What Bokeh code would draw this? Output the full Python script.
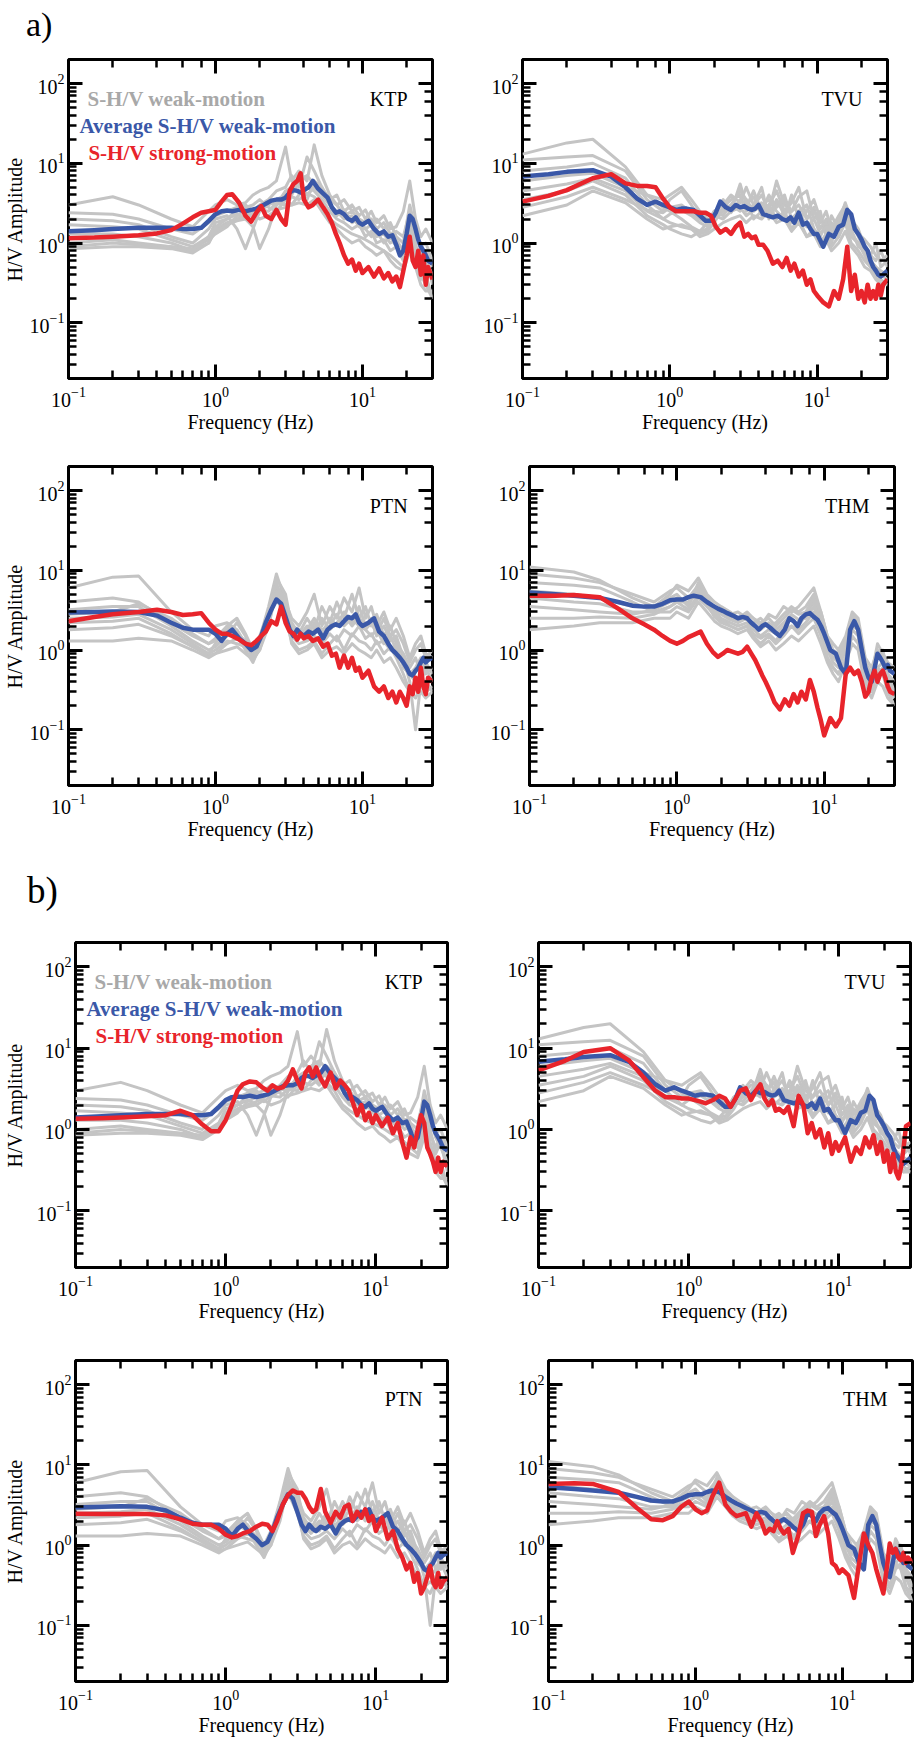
import math
from bokeh.plotting import figure
from bokeh.models import LogAxis, Label, CustomJSTickFormatter, Div
from bokeh.layouts import column, row
from bokeh.embed import file_html
from bokeh.resources import INLINE

# ---------------- data ----------------
X_RANGE = (0.1, 30)
Y_RANGE = (0.02, 200)

# frequency grid of the individual weak-motion S-H/V curves
FREQ_W = [0.1, 0.2, 0.3, 0.5, 0.7, 0.9, 1.0, 1.2, 1.4, 1.6,
          1.8, 2.0, 2.3, 2.6, 3.0, 3.3, 3.7, 4.2, 4.7, 5.3,
          6.0, 6.7, 7.5, 8.5, 9.5, 10.5, 11.5, 12.5, 14, 15.5,
          17, 19, 21, 23, 25, 27, 30]

# frequency grid of average weak-motion and strong-motion curves
FREQ_S = [0.1, 0.15, 0.2, 0.3, 0.4, 0.5, 0.6, 0.7, 0.8, 0.9,
          1.0, 1.1, 1.2, 1.3, 1.45, 1.6, 1.75, 1.9, 2.05, 2.2,
          2.4, 2.6, 2.8, 3.0, 3.2, 3.4, 3.6, 3.8, 4.0, 4.3,
          4.6, 5.0, 5.4, 5.8, 6.2, 6.6, 7.0, 7.5, 8.0, 8.5,
          9.0, 9.5, 10, 11, 12, 13, 14, 15, 16, 17,
          18, 19, 20, 21, 22, 23, 24, 25, 26, 27,
          28, 30]

KTP_WEAK = [
    [3.0, 3.8, 3.0, 2.0, 1.6, 2.5, 3.0, 3.5, 3.0, 3.2, 4.0, 4.5, 5.0, 6.0, 16.0, 6.0, 8.0, 6.0, 17.0, 7.0,
     4.0, 3.0, 3.5, 2.5, 2.8, 2.0, 2.5, 1.8, 2.2, 1.5, 1.6, 2.5, 6.0, 2.0, 1.2, 1.5, 1.0],
    [2.4, 2.3, 2.0, 1.5, 1.3, 1.8, 2.2, 2.5, 2.8, 3.0, 2.5, 3.0, 3.5, 4.5, 5.0, 7.0, 5.0, 12.0, 8.0, 5.0,
     3.5, 4.0, 2.5, 3.0, 2.2, 2.6, 1.8, 2.0, 1.5, 1.8, 1.2, 1.0, 3.0, 1.5, 0.8, 0.6, 0.4],
    [2.0, 1.9, 1.7, 1.2, 1.0, 1.5, 2.0, 2.2, 1.5, 0.85, 1.5, 2.5, 3.0, 3.5, 4.0, 4.5, 5.5, 4.0, 5.0, 4.0,
     3.0, 2.5, 2.0, 2.2, 1.6, 1.5, 1.2, 1.4, 1.0, 1.2, 0.9, 0.7, 2.0, 1.0, 0.5, 0.7, 0.3],
    [1.7, 1.6, 1.5, 1.1, 0.9, 1.2, 1.8, 2.0, 2.3, 2.0, 1.6, 0.85, 1.5, 3.0, 3.5, 3.0, 4.0, 5.0, 4.5, 3.5,
     2.5, 2.0, 1.8, 1.5, 1.7, 1.2, 1.4, 1.0, 1.1, 0.8, 0.9, 0.6, 1.5, 0.7, 0.4, 0.3, 0.2],
    [1.3, 1.3, 1.2, 1.0, 0.8, 1.0, 1.5, 1.8, 2.0, 2.2, 2.5, 2.8, 3.2, 3.0, 4.5, 5.0, 4.5, 3.5, 6.0, 5.0,
     3.0, 2.2, 2.6, 1.8, 2.0, 1.5, 1.7, 1.2, 1.3, 1.0, 1.1, 0.8, 1.8, 0.9, 0.6, 0.8, 0.5],
    [1.0, 1.1, 1.0, 0.9, 0.85, 1.1, 1.3, 1.6, 2.2, 2.5, 2.2, 2.6, 2.5, 3.2, 3.0, 3.8, 3.5, 4.2, 3.8, 3.0,
     2.0, 1.7, 1.5, 1.3, 1.2, 1.1, 1.0, 0.9, 0.8, 0.7, 0.6, 0.5, 1.0, 0.6, 0.35, 0.4, 0.2],
    [0.9, 1.0, 0.95, 0.9, 0.8, 1.2, 1.6, 2.0, 2.6, 2.8, 3.0, 3.5, 2.8, 2.5, 3.5, 4.0, 6.0, 7.0, 5.5, 4.5,
     3.5, 3.0, 2.2, 2.5, 2.0, 1.8, 2.0, 1.5, 1.8, 1.3, 1.4, 1.2, 2.5, 1.3, 0.9, 1.0, 0.6],
    [0.85, 0.9, 0.9, 0.85, 0.75, 1.0, 1.4, 1.7, 1.9, 2.0, 2.3, 2.0, 2.2, 2.6, 2.8, 3.0, 3.2, 3.0, 3.5, 2.5,
     1.8, 1.5, 1.2, 1.0, 1.1, 0.9, 0.8, 0.7, 0.8, 0.6, 0.5, 0.45, 0.8, 0.5, 0.3, 0.25, 0.25],
]
KTP_AVG = [1.4, 1.45, 1.5, 1.55, 1.55, 1.55, 1.5, 1.5, 1.55, 1.9,
           2.3, 2.5, 2.55, 2.5, 2.6, 2.5, 2.6, 2.7, 2.9, 3.1,
           3.4, 3.5, 3.5, 3.7, 4.3, 4.6, 4.5, 4.3, 4.6, 5.0,
           6.0, 4.8, 4.2, 3.7, 2.8, 2.4, 2.5, 2.3, 2.0, 1.9,
           2.1, 1.8, 1.7, 1.9, 1.5, 1.3, 1.4, 1.2, 1.25, 0.95,
           0.7, 0.8, 1.3, 2.2, 2.0, 1.5, 1.1, 0.9, 0.8, 0.7,
           0.6, 0.55]
KTP_STRONG_A = [1.15, 1.17, 1.2, 1.25, 1.32, 1.45, 1.75, 2.1, 2.4, 2.5,
                2.6, 3.3, 4.0, 4.1, 3.2, 2.2, 1.85, 2.4, 2.9, 2.2,
                2.0, 2.6, 2.0, 1.7, 4.5, 5.5, 6.0, 7.5, 3.5, 2.8,
                3.0, 3.5, 2.8, 2.3, 1.8, 1.3, 1.0, 0.7, 0.55, 0.62,
                0.45, 0.55, 0.42, 0.5, 0.38, 0.48, 0.36, 0.42, 0.33, 0.38,
                0.28, 0.45, 0.7, 1.2, 0.6, 0.5, 0.8, 0.4, 0.7, 0.3,
                0.5, 0.35]
KTP_STRONG_B = [1.35, 1.37, 1.4, 1.45, 1.5, 1.7, 1.5, 1.15, 0.95, 0.95,
                1.3, 2.0, 3.0, 3.6, 3.9, 3.8, 3.3, 3.0, 3.5, 3.2,
                3.3, 4.0, 5.5, 4.0, 3.2, 5.0, 5.8, 4.5, 5.8, 4.2,
                3.4, 5.0, 3.2, 4.0, 3.5, 3.0, 2.2, 1.5, 2.0, 1.3,
                1.6, 1.2, 1.5, 1.1, 1.4, 0.9, 1.2, 0.7, 0.45, 0.8,
                0.6, 1.0, 1.5, 1.2, 0.6, 0.5, 0.4, 0.3, 0.45, 0.3,
                0.4, 0.35]

TVU_WEAK = [
    [13.0, 18.0, 20.0, 9.0, 4.0, 2.8, 2.5, 2.0, 1.6, 1.4, 1.5, 2.2, 3.5, 2.5, 5.5, 3.0, 3.8, 2.2, 3.0, 4.5,
     2.5, 3.2, 5.0, 2.0, 2.8, 1.5, 2.0, 1.3, 1.8, 3.2, 2.0, 1.5, 0.9, 0.7, 1.0, 0.5, 0.6],
    [11.0, 12.0, 12.5, 8.0, 3.5, 2.5, 3.5, 4.5, 3.0, 2.0, 1.8, 2.5, 3.0, 4.0, 3.2, 5.0, 3.0, 4.0, 2.5, 6.0,
     3.0, 2.5, 3.8, 4.5, 2.0, 2.5, 1.2, 2.2, 1.5, 2.8, 1.8, 1.2, 0.8, 0.6, 0.5, 0.4, 0.35],
    [8.0, 9.0, 10.0, 6.5, 3.0, 2.0, 1.8, 1.6, 1.5, 1.3, 1.4, 1.8, 2.8, 3.5, 4.0, 2.5, 3.0, 5.0, 2.0, 3.0,
     4.0, 2.0, 2.5, 3.0, 1.5, 1.2, 1.8, 1.0, 2.0, 2.5, 1.2, 1.0, 0.7, 0.5, 0.4, 0.35, 0.3],
    [6.0, 7.0, 7.5, 5.0, 4.0, 3.5, 4.0, 5.0, 3.5, 2.5, 2.0, 2.0, 2.5, 3.0, 4.5, 3.5, 2.5, 3.0, 3.5, 2.5,
     2.0, 4.0, 2.0, 2.5, 3.5, 2.0, 1.5, 1.8, 1.2, 2.2, 1.5, 0.9, 0.8, 0.6, 0.5, 0.45, 0.4],
    [4.5, 5.5, 6.5, 4.5, 2.5, 2.0, 2.3, 2.6, 2.2, 1.8, 1.6, 2.2, 2.0, 2.5, 2.8, 2.2, 2.6, 3.2, 2.2, 3.5,
     2.2, 1.8, 2.5, 1.6, 2.0, 1.3, 1.6, 1.2, 1.5, 2.0, 1.3, 1.0, 0.9, 0.7, 0.6, 0.8, 0.5],
    [3.5, 4.5, 6.0, 4.0, 2.2, 1.7, 1.5, 1.3, 1.2, 1.4, 1.8, 2.5, 2.2, 3.0, 2.5, 3.5, 2.0, 2.5, 3.0, 2.0,
     2.5, 1.5, 2.0, 1.2, 1.5, 1.0, 1.3, 0.9, 1.2, 1.8, 1.0, 0.8, 0.6, 0.5, 0.4, 0.3, 0.35],
    [2.8, 3.8, 5.0, 3.5, 2.6, 2.4, 2.8, 3.0, 2.4, 2.0, 1.8, 2.0, 2.8, 2.4, 3.5, 2.8, 4.5, 2.5, 4.0, 2.8,
     3.5, 2.5, 3.0, 2.0, 2.5, 1.8, 2.5, 1.5, 2.2, 3.0, 1.6, 1.3, 1.1, 0.9, 0.7, 0.6, 0.7],
    [2.2, 3.0, 4.5, 3.2, 2.0, 1.5, 1.6, 1.7, 1.5, 1.2, 1.3, 1.5, 1.8, 2.0, 2.2, 1.8, 2.2, 2.0, 2.5, 1.8,
     2.0, 1.4, 1.8, 1.2, 1.3, 0.9, 1.1, 0.8, 1.0, 1.4, 0.9, 0.7, 0.5, 0.45, 0.35, 0.3, 0.3],
]
TVU_AVG = [6.8, 7.3, 7.8, 8.2, 6.8, 5.0, 3.6, 3.0, 3.3, 3.0,
           2.8, 2.6, 2.7, 2.7, 2.6, 2.2, 1.9, 1.9, 2.4, 3.3,
           2.8, 2.6, 3.0, 2.8, 2.9, 2.7, 2.6, 2.7, 3.0, 2.3,
           2.2, 2.1, 2.2, 2.0, 1.9, 2.1, 1.8, 2.4, 1.7, 1.8,
           1.5, 1.3, 1.3, 0.9, 1.3, 1.2, 1.6, 1.7, 2.6, 2.3,
           1.5, 1.3, 1.1, 0.9, 0.8, 0.6, 0.5, 0.45, 0.4, 0.38,
           0.4, 0.45]
TVU_STRONG_A = [3.3, 3.9, 4.6, 6.5, 7.3, 5.6, 5.2, 5.2, 5.0, 3.6,
                2.8, 2.5, 2.5, 2.5, 2.5, 2.4, 2.4, 2.2, 1.6, 1.35,
                1.5, 1.3, 1.6, 1.8, 1.2, 1.3, 1.15, 1.2, 0.95, 0.95,
                0.8, 0.55, 0.6, 0.5, 0.65, 0.45, 0.55, 0.38, 0.45, 0.3,
                0.35, 0.25, 0.22, 0.18, 0.16, 0.25, 0.2, 0.35, 0.9, 0.25,
                0.4, 0.2, 0.25, 0.18, 0.3, 0.2, 0.25, 0.2, 0.3, 0.22,
                0.3, 0.35]
TVU_STRONG_B = [5.35, 7.0, 9.0, 10.0, 7.1, 4.4, 3.0, 2.5, 2.5, 2.4,
                2.4, 2.3, 2.2, 2.1, 2.3, 2.6, 2.4, 1.9, 2.4, 3.0,
                3.2, 2.3, 3.0, 3.6, 2.4, 2.0, 2.3, 1.7, 1.8, 1.6,
                1.9, 1.1, 2.6, 2.0, 0.9, 1.2, 0.8, 1.0, 0.6, 0.9,
                0.5, 0.7, 0.55, 0.8, 0.4, 0.6, 0.5, 0.8, 0.6, 0.85,
                0.5, 0.7, 0.4, 0.55, 0.3, 0.5, 0.3, 0.25, 0.35, 0.6,
                1.1, 1.2]

PTN_WEAK = [
    [6.0, 8.2, 8.5, 3.0, 1.8, 1.5, 2.0, 2.2, 1.8, 1.2, 0.9, 1.4, 3.5, 9.0, 4.0, 2.5, 2.0, 3.0, 5.0, 2.0,
     3.5, 2.5, 4.5, 3.0, 6.0, 2.5, 3.5, 2.0, 3.0, 1.8, 2.5, 1.5, 0.8, 1.2, 1.5, 0.9, 0.8],
    [4.0, 4.5, 4.0, 2.2, 1.5, 1.2, 1.4, 2.0, 1.6, 1.3, 1.0, 1.2, 3.0, 7.0, 3.0, 2.2, 1.6, 2.5, 1.8, 3.5,
     2.2, 4.0, 2.5, 5.0, 2.5, 3.5, 2.0, 2.8, 1.5, 2.0, 1.2, 0.9, 0.6, 0.8, 0.5, 0.7, 0.5],
    [3.2, 3.5, 3.5, 2.0, 1.3, 1.0, 1.1, 1.5, 2.2, 1.5, 0.8, 1.0, 2.5, 6.0, 3.5, 1.8, 1.4, 1.8, 2.5, 1.6,
     2.5, 2.0, 3.0, 2.2, 3.5, 2.0, 2.5, 1.5, 2.0, 1.3, 1.5, 0.8, 0.4, 0.1, 0.4, 0.6, 0.4],
    [2.8, 3.0, 3.8, 2.5, 1.6, 1.2, 1.3, 1.8, 1.5, 1.0, 0.7, 1.1, 2.8, 8.0, 5.0, 2.0, 1.8, 1.5, 2.2, 1.8,
     2.0, 2.8, 2.0, 2.5, 2.0, 1.8, 1.5, 1.8, 1.2, 1.5, 1.0, 0.7, 0.5, 0.6, 0.8, 0.5, 0.6],
    [2.5, 2.6, 2.8, 1.8, 1.2, 0.9, 1.0, 1.3, 1.2, 1.1, 0.9, 1.3, 2.2, 5.0, 3.0, 1.5, 1.2, 1.3, 1.5, 1.2,
     1.6, 1.3, 1.8, 1.5, 2.0, 1.4, 1.6, 1.2, 1.3, 1.0, 1.2, 0.6, 0.5, 0.4, 0.5, 0.3, 0.35],
    [2.2, 2.3, 2.5, 1.6, 1.1, 0.85, 0.9, 1.2, 1.4, 1.2, 0.8, 1.2, 2.5, 4.5, 2.5, 1.3, 1.0, 1.1, 1.3, 0.9,
     1.2, 1.5, 1.0, 1.6, 1.3, 1.2, 1.0, 1.3, 0.9, 1.1, 0.8, 0.5, 0.3, 0.25, 0.35, 0.4, 0.3],
    [1.8, 1.9, 2.1, 1.5, 1.1, 0.9, 1.2, 2.0, 2.5, 1.6, 1.0, 1.5, 3.0, 6.5, 4.0, 2.0, 1.5, 2.0, 1.6, 2.5,
     1.8, 2.2, 2.8, 2.0, 2.6, 1.8, 2.2, 1.6, 2.5, 1.5, 1.8, 1.2, 0.7, 1.0, 1.2, 0.8, 1.0],
    [1.3, 1.3, 1.4, 1.3, 1.0, 0.8, 0.9, 1.0, 1.1, 0.9, 0.75, 1.0, 2.0, 5.5, 3.0, 1.2, 0.9, 1.0, 1.2, 0.8,
     1.0, 1.1, 0.9, 1.2, 1.0, 0.9, 0.8, 1.0, 0.7, 0.8, 0.6, 0.4, 0.3, 0.35, 0.3, 0.25, 0.3],
]
PTN_AVG = [2.95, 3.0, 3.05, 3.0, 2.7, 2.2, 1.9, 1.8, 1.8, 1.8,
           1.6, 1.3, 1.6, 1.8, 1.4, 1.2, 1.0, 1.1, 1.5, 2.2,
           3.2, 4.3, 3.8, 2.6, 1.8, 1.5, 1.8, 1.6, 1.5, 1.7,
           1.6, 1.8, 1.4, 1.8, 2.0, 2.1, 2.0, 2.3, 2.6, 2.5,
           2.8, 2.2, 2.0, 2.2, 2.5, 1.7, 1.5, 1.2, 1.0, 0.9,
           0.8, 0.7, 0.6, 0.5, 0.48, 0.55, 0.6, 0.7, 0.8, 0.7,
           0.75, 0.8]
PTN_STRONG_A = [2.3, 2.6, 2.8, 3.0, 3.2, 3.0, 2.75, 2.8, 2.9, 2.2,
                1.8, 1.6, 1.6, 1.5, 1.35, 1.2, 1.15, 1.3, 1.5, 1.7,
                2.3, 2.1, 3.5, 2.2, 1.7, 1.6, 1.35, 1.6, 1.4, 1.5,
                1.3, 1.4, 1.1, 1.2, 0.85, 0.9, 0.6, 0.85, 0.6, 0.8,
                0.55, 0.6, 0.45, 0.55, 0.35, 0.3, 0.35, 0.25, 0.3, 0.22,
                0.3, 0.25, 0.2, 0.35, 0.28, 0.45, 0.3, 0.6, 0.35, 0.28,
                0.45, 0.4]
PTN_STRONG_B = [2.47, 2.45, 2.45, 2.45, 2.35, 2.1, 1.85, 1.8, 1.8, 1.6,
                1.35, 1.25, 1.3, 1.4, 1.5, 1.7, 1.85, 1.8, 1.5, 2.0,
                3.2, 4.2, 4.8, 4.5, 4.5, 3.8, 3.0, 2.6, 2.8, 5.0,
                2.6, 1.9, 2.6, 2.2, 3.0, 3.2, 2.0, 2.6, 2.2, 2.8,
                2.0, 2.3, 1.5, 2.2, 1.2, 1.5, 0.9, 0.7, 0.5, 0.6,
                0.35, 0.45, 0.25, 0.3, 0.4, 0.55, 0.35, 0.3, 0.45, 0.3,
                0.35, 0.4]

THM_WEAK = [
    [11.0, 9.5, 7.5, 4.5, 3.5, 5.0, 6.5, 5.5, 8.0, 5.0, 4.0, 3.5, 3.0, 2.5, 3.0, 2.5, 2.0, 2.8, 2.5, 3.5,
     3.0, 3.5, 4.5, 6.0, 3.0, 1.5, 1.2, 1.0, 1.5, 3.0, 2.5, 0.8, 0.6, 1.0, 0.8, 0.6, 0.5],
    [9.0, 8.0, 7.0, 5.0, 4.0, 5.5, 6.0, 4.5, 6.5, 4.5, 3.5, 3.0, 2.8, 3.0, 2.5, 2.2, 2.5, 2.0, 2.2, 2.8,
     3.5, 3.0, 3.5, 5.0, 2.5, 1.2, 0.9, 0.8, 1.2, 2.5, 2.0, 0.6, 0.4, 0.8, 1.0, 0.5, 0.3],
    [7.0, 6.5, 6.0, 4.0, 3.0, 3.5, 4.0, 4.0, 5.5, 4.0, 3.0, 2.5, 2.2, 2.0, 2.2, 1.8, 1.5, 1.8, 1.6, 2.0,
     2.5, 2.0, 2.8, 4.0, 2.0, 1.0, 0.7, 0.6, 1.0, 2.0, 1.8, 0.5, 0.3, 0.6, 0.7, 0.4, 0.25],
    [5.5, 5.0, 4.5, 3.5, 3.5, 4.5, 5.0, 3.5, 7.0, 4.5, 3.2, 3.0, 2.6, 2.3, 2.8, 2.5, 2.2, 2.5, 2.0, 2.5,
     3.2, 2.8, 3.0, 4.5, 3.0, 1.5, 1.0, 0.9, 1.3, 2.8, 2.2, 0.7, 0.5, 1.2, 0.9, 0.7, 0.6],
    [4.5, 4.0, 3.8, 3.0, 3.0, 3.0, 3.5, 3.0, 4.5, 3.5, 2.8, 2.4, 2.0, 1.8, 2.0, 1.6, 1.4, 1.6, 1.3, 1.8,
     2.0, 1.8, 2.2, 3.0, 1.6, 0.8, 0.6, 0.5, 0.8, 1.8, 1.5, 0.45, 0.3, 0.5, 0.6, 0.3, 0.2],
    [3.5, 3.2, 3.0, 2.8, 3.2, 4.0, 4.5, 3.8, 6.0, 4.0, 3.0, 2.8, 2.4, 2.2, 2.5, 2.0, 1.8, 2.2, 1.8, 2.2,
     2.8, 2.4, 2.5, 3.5, 2.2, 1.2, 0.8, 0.7, 1.1, 2.2, 1.8, 0.6, 0.4, 0.9, 0.8, 0.5, 0.4],
    [2.5, 2.5, 2.6, 2.5, 2.8, 3.5, 4.0, 3.2, 5.0, 3.8, 2.6, 2.2, 2.0, 1.8, 2.0, 1.5, 1.2, 1.5, 1.2, 1.5,
     2.0, 1.6, 2.0, 2.5, 1.5, 0.8, 0.6, 0.5, 0.8, 1.5, 1.2, 0.4, 0.3, 0.6, 0.5, 0.3, 0.25],
    [1.8, 2.0, 2.2, 2.2, 2.5, 2.5, 3.0, 2.5, 4.0, 3.0, 2.3, 2.0, 1.8, 1.6, 1.8, 1.4, 1.1, 1.3, 1.0, 1.2,
     1.5, 1.3, 1.6, 2.0, 1.2, 0.7, 0.5, 0.4, 0.7, 1.2, 1.0, 0.35, 0.25, 0.4, 0.35, 0.25, 0.2],
]
THM_AVG = [5.25, 5.0, 4.8, 4.5, 4.0, 3.6, 3.5, 3.5, 3.8, 4.2,
           4.3, 4.3, 4.6, 4.8, 4.6, 4.0, 3.6, 3.3, 3.1, 2.9,
           2.7, 2.5, 2.6, 2.5, 2.2, 2.0, 1.8, 2.0, 2.1, 1.9,
           1.7, 1.5, 1.8, 2.5, 2.3, 2.0, 2.5, 2.8, 2.9, 2.6,
           2.4, 2.0, 1.6, 1.0, 0.9, 0.6, 0.5, 1.8, 2.3, 1.8,
           1.0, 0.6, 0.45, 0.4, 0.6, 0.9, 0.8, 0.7, 0.6, 0.65,
           0.55, 0.5]
THM_STRONG_A = [4.8, 4.8, 4.9, 4.6, 3.3, 2.5, 2.1, 1.8, 1.5, 1.3,
                1.2, 1.3, 1.45, 1.55, 1.7, 1.2, 0.95, 0.82, 0.9, 1.0,
                0.95, 0.9, 0.95, 1.1, 0.9, 0.75, 0.6, 0.48, 0.4, 0.3,
                0.22, 0.18, 0.24, 0.2, 0.28, 0.22, 0.3, 0.24, 0.42, 0.3,
                0.19, 0.13, 0.085, 0.14, 0.11, 0.14, 0.5, 0.6, 0.5, 0.55,
                0.4, 0.26, 0.3, 0.45, 0.55, 0.4, 0.5, 0.55, 0.45, 0.35,
                0.3, 0.28]
THM_STRONG_B = [5.8, 5.9, 5.8, 4.6, 2.9, 2.1, 2.05, 2.3, 3.0, 3.5,
                2.8, 2.5, 2.7, 4.0, 6.0, 3.2, 2.6, 2.3, 2.4, 2.5,
                1.7, 2.5, 2.0, 1.4, 1.6, 1.5, 2.0, 1.6, 1.4, 1.6,
                0.8, 1.3, 2.5, 2.7, 2.6, 1.3, 1.8, 2.3, 1.4, 0.6,
                0.55, 0.45, 0.5, 0.42, 0.22, 0.6, 1.4, 1.0, 0.8, 0.5,
                0.35, 0.25, 0.5, 1.05, 0.8, 0.9, 0.7, 0.65, 0.8, 0.6,
                0.7, 0.6]

LEGEND_TEXTS = ["S-H/V weak-motion", "Average S-H/V weak-motion", "S-H/V strong-motion"]

# ---------------- styling ----------------
SERIF = "Liberation Serif"
GRAY = "#c4c4c4"
GRAY_TEXT = "#a8a8a8"
BLUE = "#3a58a8"
RED = "#e8242b"


def style_axis(ax, minor_len, labels=True, label_standoff=8, title_standoff=1):
    ax.axis_line_color = None
    ax.major_tick_in = 14
    ax.major_tick_out = 0
    ax.minor_tick_in = minor_len
    ax.minor_tick_out = 0
    ax.major_tick_line_width = 3
    ax.minor_tick_line_width = 2.5
    ax.major_tick_line_color = "black"
    ax.minor_tick_line_color = "black"
    if labels:
        ax.major_label_text_font = SERIF
        ax.major_label_text_font_size = "20px"
        ax.major_label_text_color = "black"
        ax.major_label_standoff = label_standoff
        ax.axis_label_text_font = SERIF
        ax.axis_label_text_font_size = "20px"
        ax.axis_label_text_font_style = "normal"
        ax.axis_label_text_color = "black"
        ax.axis_label_standoff = title_standoff
    else:
        ax.formatter = CustomJSTickFormatter(code="return ''")
        ax.major_label_text_font_size = "0px"
        ax.major_label_standoff = 0
        ax.axis_label_standoff = 0


def frame_to_data(fw, fh, dx, dy):
    lx0, lx1 = math.log10(X_RANGE[0]), math.log10(X_RANGE[1])
    ly0, ly1 = math.log10(Y_RANGE[0]), math.log10(Y_RANGE[1])
    return (10 ** (lx0 + dx / fw * (lx1 - lx0)),
            10 ** (ly1 - dy / fh * (ly1 - ly0)))


def panel(width, height, borders, station, weak, avg, strong,
          ylabel=False, legend=False, ylabel_standoff=1):
    l, r, t, b = borders
    fw, fh = width - l - r, height - t - b
    p = figure(width=width, height=height, x_axis_type="log", y_axis_type="log",
               x_range=X_RANGE, y_range=Y_RANGE, output_backend="svg",
               toolbar_location=None, min_border_left=l, min_border_right=r,
               min_border_top=t, min_border_bottom=b)
    p.background_fill_color = "white"
    p.border_fill_color = "white"
    p.outline_line_color = "black"
    p.outline_line_width = 3
    p.xgrid.visible = False
    p.ygrid.visible = False

    style_axis(p.xaxis[0], 8, label_standoff=8, title_standoff=1)
    style_axis(p.yaxis[0], 8, label_standoff=4, title_standoff=ylabel_standoff)
    p.xaxis[0].axis_label = "Frequency (Hz)"
    if ylabel:
        p.yaxis[0].axis_label = "H/V Amplitude"
    top = LogAxis(fixed_location=Y_RANGE[1])
    style_axis(top, 8, labels=False)
    p.add_layout(top, "above")
    right = LogAxis(fixed_location=X_RANGE[1])
    style_axis(right, 8, labels=False)
    p.add_layout(right, "right")

    for w in weak:
        xs, ys = zip(*zip(FREQ_W, w))
        p.line(list(xs), list(ys), line_color=GRAY, line_width=3, line_join="round")
    xs, ys = zip(*zip(FREQ_S, avg))
    p.line(list(xs), list(ys), line_color=BLUE, line_width=4.5, line_join="round")
    xs, ys = zip(*zip(FREQ_S, strong))
    p.line(list(xs), list(ys), line_color=RED, line_width=4.5, line_join="round")

    sx, sy = frame_to_data(fw, fh, fw - 25, 39)
    p.add_layout(Label(x=sx, y=sy, text=station, text_align="right",
                       text_baseline="alphabetic", text_font=SERIF,
                       text_font_size="20px", text_color="black"))
    if legend:
        for (dx, dy), txt, col in zip([(19, 39), (11, 66), (20, 93)], LEGEND_TEXTS,
                                      [GRAY_TEXT, BLUE, RED]):
            lx, ly = frame_to_data(fw, fh, dx, dy)
            p.add_layout(Label(x=lx, y=ly, text=txt, text_align="left",
                               text_baseline="alphabetic", text_font=SERIF,
                               text_font_size="21px", text_font_style="bold",
                               text_color=col))
    return p


def tag_div(text, height, size, top, left):
    html = (f'<div style="font-family: \'Liberation Serif\', serif; font-size: {size}px; '
            f'line-height: {size}px; margin: {top}px 0 0 {left}px; color: black;">{text}</div>')
    return Div(text=html, width=915, height=height, margin=0)


tag_a = tag_div("a)", 45, 34, 8, 26)
a1 = panel(460, 395, (67, 28, 14, 62), "KTP", KTP_WEAK, KTP_AVG, KTP_STRONG_A,
           ylabel=True, legend=True, ylabel_standoff=1)
a2 = panel(455, 395, (62, 28, 14, 62), "TVU", TVU_WEAK, TVU_AVG, TVU_STRONG_A)
a3 = panel(460, 420, (67, 28, 26, 75), "PTN", PTN_WEAK, PTN_AVG, PTN_STRONG_A,
           ylabel=True, ylabel_standoff=1)
a4 = panel(455, 420, (69, 21, 26, 75), "THM", THM_WEAK, THM_AVG, THM_STRONG_A)
tag_b = tag_div("b)", 60, 37, 12, 27)
b1 = panel(460, 410, (74, 13, 22, 63), "KTP", KTP_WEAK, KTP_AVG, KTP_STRONG_B,
           ylabel=True, legend=True, ylabel_standoff=8)
b2 = panel(455, 410, (78, 5, 22, 63), "TVU", TVU_WEAK, TVU_AVG, TVU_STRONG_B)
b3 = panel(460, 408, (74, 13, 30, 56), "PTN", PTN_WEAK, PTN_AVG, PTN_STRONG_B,
           ylabel=True, ylabel_standoff=8)
b4 = panel(455, 408, (88, 3, 30, 56), "THM", THM_WEAK, THM_AVG, THM_STRONG_B)

layout = column(tag_a, row(a1, a2), row(a3, a4), tag_b, row(b1, b2), row(b3, b4))

open("out.html", "w").write(file_html(layout, INLINE, "S-H/V spectral ratios"))
